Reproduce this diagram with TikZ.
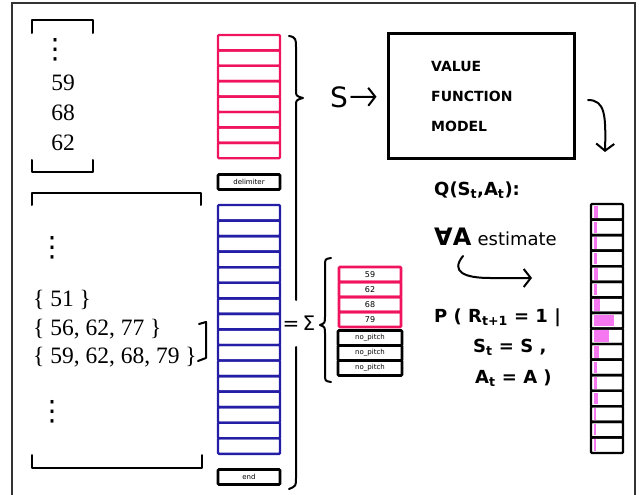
\documentclass[tikz,border=0pt]{standalone}
\usepackage{fontspec}
\setmainfont{Liberation Serif}
\newfontfamily\hand{DejaVu Sans}
\usetikzlibrary{arrows.meta}
\definecolor{tokpink}{RGB}{240,20,95}
\definecolor{tokblue}{RGB}{35,30,165}
\definecolor{probpink}{RGB}{245,120,240}
\tikzset{
  cell/.style={line width=2.4pt,rounded corners=1pt},
  tag/.style={draw,line width=2.6pt,rounded corners=1pt,minimum width=62pt,minimum height=15pt,inner sep=0pt,font=\hand\fontsize{7}{7}\selectfont},
  ink/.style={line width=2pt,line cap=round,line join=round},
  num/.style={font=\fontsize{23.5}{23.5}\selectfont,inner sep=0pt},
  dots/.style={font=\hand\fontsize{28}{28}\selectfont,inner sep=0pt},
  hw/.style={font=\hand\bfseries\fontsize{18}{18}\selectfont,inner sep=0pt},
  barb/.style={ink,-{Straight Barb[length=7pt,width=18pt,line width=2pt]}}
}

\begin{document}
\begin{tikzpicture}[x=1pt,y=-1pt]
  \useasboundingbox (0,0) rectangle (640,495);
  \draw[line width=1.2pt,black!80] (12,495) -- (12,3) -- (635,3) -- (635,495);

  \node[dots] (dA) at (55,50) {⋮};
  \node[num] (n59) at (63,83) {59};
  \node[num] (n68) at (63,113) {68};
  \node[num] (n62) at (63,143) {62};
  \draw[ink] (32,33) -- (32,20) -- (93,20) -- (93,33);
  \draw[ink] (32,160) -- (32,172) -- (93,172) -- (93,160);

  \node[dots] (dB) at (52,248) {⋮};
  \node[num,anchor=west] (s1) at (33,300) {\{ 51 \}};
  \node[num,anchor=west] (s2) at (33,329) {\{ 56, 62, 77 \}};
  \node[num,anchor=west] (s3) at (33,357) {\{ 59, 62, 68, 79 \}};
  \node[dots] (dC) at (52,412) {⋮};
  \draw[ink] (32,205) -- (32,193) -- (201,193) -- (201,205);
  \draw[ink] (32,455) -- (32,468) -- (202,468) -- (202,455);
  \draw[ink] (199,324) -- (206,322) -- (206,358) -- (198,361);

  \foreach \i in {0,...,7}
    \draw[cell,tokpink] (218,{35+15.4*\i}) rectangle ++(62,15.4);
  \node[tag] (delim) at (249,182) {delimiter};
  \foreach \i in {0,...,15}
    \draw[cell,tokblue] (218,{205+15.55*\i}) rectangle ++(62,15.55);
  \node[tag] (end) at (249,477) {end};

  \draw[ink] (289,36) .. controls (296,37) and (296,40) .. (296,47) -- (296,90)
    .. controls (296,96) .. (303,98) .. controls (296,100) .. (296,106) -- (296,300);
  \draw[ink] (296,347) -- (296,478) .. controls (296,486) .. (289,489);
  \node[font=\hand\fontsize{20}{20}\selectfont,inner sep=0pt] (sum) at (299,323) {=\,Σ};

  \draw[ink] (331,258) .. controls (325,259) .. (325,266) -- (325,316)
    .. controls (325,323) .. (320,325) .. controls (325,327) .. (325,334) -- (325,374)
    .. controls (325,381) .. (331,382);
  \foreach \t [count=\i from 0] in {59,62,68,79}
    \node[tag,draw=tokpink,font=\hand\fontsize{8}{8}\selectfont] (p\i) at (370,{274.5+15*\i}) {\t};
  \foreach \i in {0,1,2}
    \node[tag,minimum width=64pt] (np\i) at (370,{338+15*\i}) {no\_pitch};

  \node[font=\hand\fontsize{28}{28}\selectfont,inner sep=0pt] (S) at (339,97) {S};
  \node[draw,line width=3pt,minimum width=186pt,minimum height=124pt] (vfm) at (481,96) {};
  \node[hw,font=\hand\bfseries\fontsize{14}{30}\selectfont,align=left,anchor=west] (vfmtext) at (431,96)
        {VALUE\\FUNCTION\\MODEL};
  \draw[barb,shorten <=3pt,shorten >=10pt] (S) -- (vfm);
  \coordinate (vs) at (588,100);
  \coordinate (ve) at (605,152);
  \draw[barb] (vs) .. controls (605,100) and (606,115) .. (ve);

  \node[hw,anchor=west] (q) at (434,190) {Q(S\textsubscript{t},A\textsubscript{t}):};
  \node[hw,anchor=west] (est) at (434,237) {{\fontsize{24}{24}\selectfont∀A} {\mdseries estimate}};
  \coordinate (es) at (463,256);
  \coordinate (ee) at (532,278);
  \draw[barb] (es) .. controls (450,272) and (465,278) .. (490,278) -- (ee);
  \node[hw,anchor=west] (p1) at (434,318) {P ( R\textsubscript{t+1} = 1 |};
  \node[hw,anchor=west] (p2) at (473,347) {S\textsubscript{t} = S ,};
  \node[hw,anchor=west] (p3) at (475,378) {A\textsubscript{t} = A )};

  \foreach \w [count=\i from 0] in {4,3,3,3,4,3,6,20,15,5,3,3,4,2,2,2}
    \fill[probpink] (594,{206+15.56*\i}) rectangle ++(\w,11.5);
  \foreach \i in {0,...,15}
    \draw[cell,black] (591,{204+15.56*\i}) rectangle ++(32,15.56);
\end{tikzpicture}
\end{document}
